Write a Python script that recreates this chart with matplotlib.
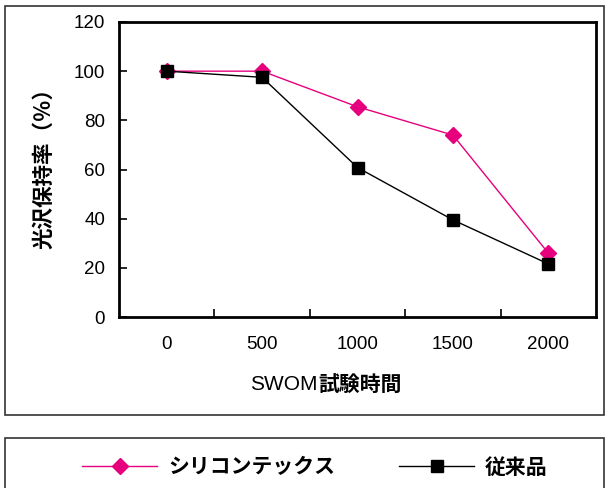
import matplotlib
matplotlib.use("Agg")
from matplotlib import pyplot as plt
from matplotlib.patches import Rectangle

# gloss retention (%) after SWOM exposure
hours = ["0", "500", "1000", "1500", "2000"]
silicontex = [100, 100, 85.5, 74, 26]
conventional = [100, 97.5, 60.8, 39.5, 21.6]
series_names = ["シリコンテックス", "従来品"]

W, H = 605, 488
JP = ["Noto Sans CJK JP", "DejaVu Sans"]
NUM = ["Liberation Sans", "DejaVu Sans"]
PINK = "#E6007E"


def fx(px):
    return px / W


def fy(py):
    return 1 - py / H


fig = plt.figure(figsize=(W / 100, H / 100), dpi=100)

# outer frames for the plot and the legend
fig.patches.append(Rectangle((fx(5), fy(415)), fx(604) - fx(5), fy(6) - fy(415),
                             transform=fig.transFigure, fill=False,
                             edgecolor="#333333", linewidth=1.2))
fig.patches.append(Rectangle((fx(5), fy(495)), fx(604) - fx(5), fy(438) - fy(495),
                             transform=fig.transFigure, fill=False,
                             edgecolor="#333333", linewidth=1.2))

ax = fig.add_axes([fx(119), fy(317), fx(596) - fx(119), fy(22) - fy(317)])
x = list(range(len(hours)))
l1, = ax.plot(x, silicontex, color=PINK, linewidth=1, marker="D",
              markersize=8, markerfacecolor=PINK, markeredgecolor=PINK)
l2, = ax.plot(x, conventional, color="black", linewidth=1, marker="s",
              markersize=8.5, markerfacecolor="black", markeredgecolor="black")

ax.set_xlim(-0.5, len(hours) - 0.5)
ax.set_ylim(0, 120)
ax.set_yticks(range(0, 121, 20))
ax.set_xticks(x)
ax.set_xticklabels(hours)
ax.set_xticks([i + 0.5 for i in x[:-1]], minor=True)
ax.tick_params(axis="x", which="major", length=0, pad=14)
ax.tick_params(axis="x", which="minor", direction="in", length=6, width=1.2)
ax.tick_params(axis="y", direction="in", length=6, width=1.2, pad=10)
for lab in ax.get_xticklabels() + ax.get_yticklabels():
    lab.set_family(NUM)
    lab.set_fontsize(13.5)
for s in ax.spines.values():
    s.set_linewidth(2)

# axis labels
fig.text(fx(44), fy(163), "光沢保持率（％）", rotation=90, ha="center",
         va="center", family=JP, fontweight="bold", fontsize=15.5)
fig.text(fx(318), fy(385), "SWOM", ha="right", va="center",
         family=NUM, fontsize=15)
fig.text(fx(318), fy(385), "試験時間", ha="left", va="center",
         family=JP, fontweight="bold", fontsize=15)

leg = fig.legend([l1, l2], series_names, loc="center", ncol=2,
                 bbox_to_anchor=(fx(315), fy(467)), frameon=False,
                 handlelength=3.6, handletextpad=0.5, columnspacing=3.1,
                 prop={"family": JP, "weight": "bold", "size": 15})

fig.savefig("out.png", dpi=100)
